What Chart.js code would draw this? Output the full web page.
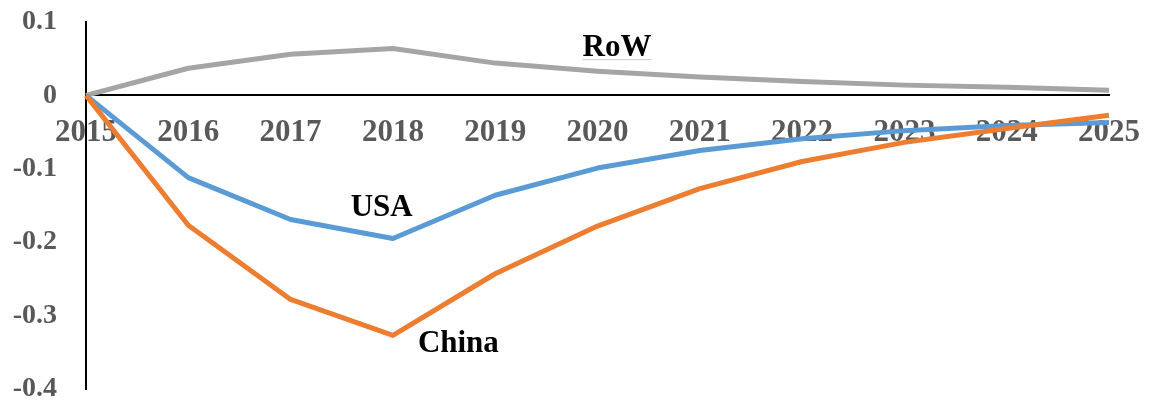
<!DOCTYPE html>
<html>
<head>
<meta charset="utf-8">
<script src="https://cdn.jsdelivr.net/npm/chart.js@4.4.1/dist/chart.umd.min.js"></script>
<style>
  html, body { margin: 0; padding: 0; background: #fff; }
  #wrap { width: 1150px; height: 406px; position: relative; }
</style>
</head>
<body>
<div id="wrap"><canvas id="effectChart"></canvas></div>
<script>
// Years on the x axis
const years = ['2015', '2016', '2017', '2018', '2019', '2020', '2021', '2022', '2023', '2024', '2025'];

// Deviation from baseline, per region
const usaValues   = [0, -0.112, -0.169, -0.195, -0.136, -0.099, -0.075, -0.059, -0.048, -0.041, -0.037];
const chinaValues = [0, -0.177, -0.278, -0.327, -0.243, -0.178, -0.127, -0.090, -0.064, -0.045, -0.027];
const rowValues   = [0, 0.037, 0.056, 0.064, 0.044, 0.033, 0.025, 0.019, 0.014, 0.011, 0.007];

// y axis range
const yMin = -0.4;
const yMax = 0.1;
const yStep = 0.1;

const SERIF = "'Liberation Serif', 'Times New Roman', serif";

// Series name labels, placed in data units (x = category index, y = value)
const seriesLabels = [
  { text: 'USA',   x: 2.89, y: -0.154 },
  { text: 'China', x: 3.64, y: -0.338 },
  { text: 'RoW',   x: 5.19, y: 0.065, underline: true }
];

// Draws the series names next to their lines
const seriesLabelPlugin = {
  id: 'seriesLabels',
  afterDatasetsDraw(chart) {
    const ctx = chart.ctx;
    const xs = chart.scales.x, ys = chart.scales.y;
    ctx.save();
    ctx.font = 'bold 31px ' + SERIF;
    ctx.fillStyle = '#000';
    ctx.textAlign = 'center';
    ctx.textBaseline = 'middle';
    seriesLabels.forEach(l => {
      const px = xs.getPixelForValue(l.x);
      const py = ys.getPixelForValue(l.y);
      ctx.fillText(l.text, px, py);
      if (l.underline) {
        // spell-check style squiggle under the word
        const w = ctx.measureText(l.text).width;
        ctx.strokeStyle = 'rgba(240, 120, 120, 0.55)';
        ctx.lineWidth = 1;
        ctx.beginPath();
        ctx.moveTo(px - w / 2, py + 12);
        ctx.lineTo(px + w / 2, py + 12);
        ctx.stroke();
      }
    });
    ctx.restore();
  }
};

new Chart(document.getElementById('effectChart'), {
  type: 'line',
  data: {
    labels: years,
    datasets: [{
      label: 'China',
      data: chinaValues,
      borderColor: '#ED7D31',
      backgroundColor: '#ED7D31',
      borderWidth: 5,
      pointRadius: 0,
      tension: 0,
      borderJoinStyle: 'round'
    }, {
      label: 'USA',
      data: usaValues,
      borderColor: '#5B9BD5',
      backgroundColor: '#5B9BD5',
      borderWidth: 5,
      pointRadius: 0,
      tension: 0,
      borderJoinStyle: 'round'
    }, {
      label: 'RoW',
      data: rowValues,
      borderColor: '#A5A5A5',
      backgroundColor: '#A5A5A5',
      borderWidth: 5,
      pointRadius: 0,
      tension: 0,
      borderJoinStyle: 'round'
    }]
  },
  options: {
    responsive: true,
    maintainAspectRatio: false,
    animation: false,
    layout: { padding: { top: 22, right: 41, bottom: 17, left: 0 } },
    plugins: {
      legend: { display: false },
      tooltip: { enabled: false }
    },
    scales: {
      x: {
        type: 'category',
        position: { y: 0 },
        offset: false,
        grid: { display: false, drawTicks: false },
        border: { display: true, color: '#000', width: 2 },
        ticks: {
          color: '#595959',
          font: { family: SERIF, size: 31, weight: 'bold' },
          padding: 19,
          maxRotation: 0,
          autoSkip: false
        },
        // axis sits on the zero line; label overhang is covered by layout padding
        afterFit(scale) {
          scale.height = 0;
          scale.paddingLeft = 0;
          scale.paddingRight = 0;
        }
      },
      y: {
        min: yMin,
        max: yMax,
        grid: { display: false, drawTicks: false },
        border: { display: true, color: '#000', width: 2 },
        ticks: {
          stepSize: yStep,
          color: '#595959',
          font: { family: SERIF, size: 28, weight: 'bold' },
          padding: 29,
          callback: v => String(Math.round(v * 10) / 10)
        },
        afterFit(scale) {
          scale.width = 86;
          scale.paddingTop = 0;
          scale.paddingBottom = 0;
        }
      }
    }
  },
  plugins: [seriesLabelPlugin]
});
</script>
</body>
</html>
